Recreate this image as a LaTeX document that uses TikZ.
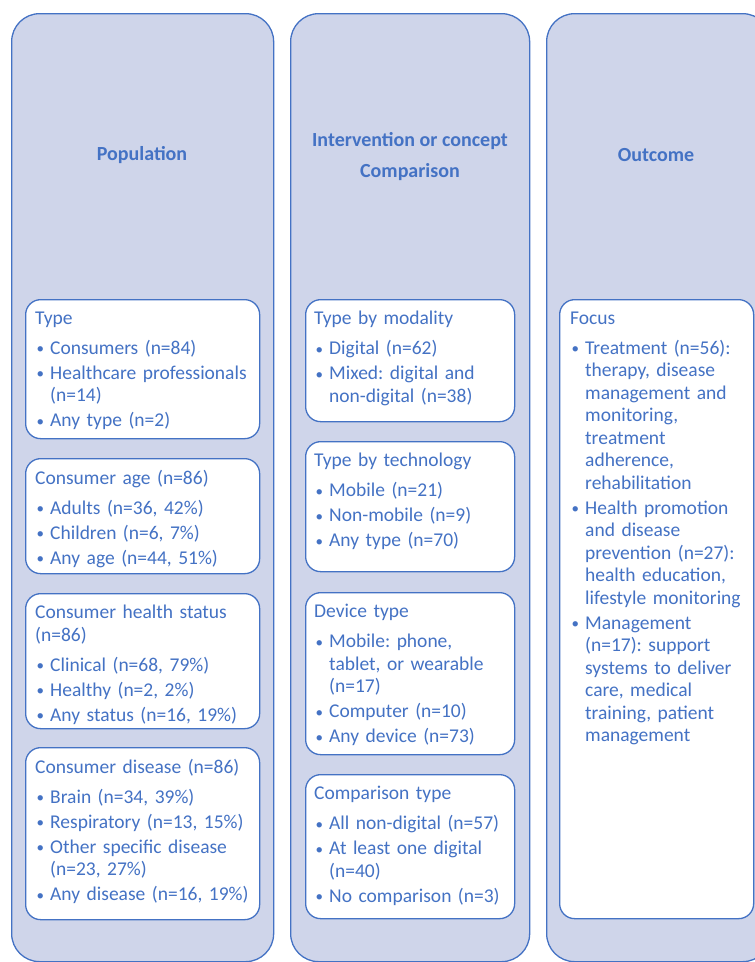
\documentclass[tikz,border=0pt]{standalone}
\usepackage{fontspec}
\setmainfont{Carlito}
\usetikzlibrary{positioning}
\definecolor{pcblue}{HTML}{4472C4}
\definecolor{pclav}{HTML}{CFD5EA}
% box title and bullet items
\newcommand{\hd}[1]{\noindent\rule{0pt}{13pt}#1\par\vspace{5pt}}
\newcommand{\itm}[1]{\vspace{2.5pt}\hangindent=15pt\hangafter=1\noindent
    \hbox to 15pt{\hspace{1.5pt}\raisebox{0.5pt}{\fontsize{15pt}{15pt}\selectfont\textbullet}\hfil}#1\par}
\begin{document}
\frenchspacing
\begin{tikzpicture}[x=1pt,y=-1pt,
        outer/.style={draw=pcblue,fill=pclav,line width=1.3pt,rounded corners=28pt,anchor=north west,inner sep=0pt},
        inbox/.style={draw=pcblue,fill=white,line width=1.3pt,rounded corners=15pt,inner sep=0pt},
        txt/.style={anchor=north west,inner sep=0pt,text=pcblue,align=left,text width=#1,
            font=\fontsize{19.5pt}{22.5pt}\selectfont},
        head/.style={text=pcblue,align=center,inner sep=0pt,font=\bfseries\fontsize{20pt}{31pt}\selectfont}]
    \path[use as bounding box,clip] (0,0) rectangle (755,962);
    % Left column: population
    \node[outer,minimum width=262pt,minimum height=948pt] (pop) at (11,13) {};
    \node[head] (pop-h) at (142,155) {Population};
    \node[inbox,anchor=north west,minimum width=234pt,minimum height=139pt] (type) at (25,299) {};
    \node[inbox,minimum width=234pt,minimum height=115pt,below=18.7pt of type] (age) {};
    \node[inbox,minimum width=234pt,minimum height=135pt,below=18.7pt of age] (status) {};
    \node[inbox,minimum width=234pt,minimum height=172pt,below=17.7pt of status] (disease) {};
    \node[txt=222pt] (type-t) at ([shift={(10,12)}]type.north west)
        {\hd{Type}\itm{Consumers (n=84)}\itm{Healthcare professionals\newline(n=14)}\itm{Any type (n=2)}};
    \node[txt=222pt] (age-t) at ([shift={(10,12)}]age.north west)
        {\hd{Consumer age (n=86)}\itm{Adults (n=36, 42\%)}\itm{Children (n=6, 7\%)}\itm{Any age (n=44, 51\%)}};
    \node[txt=222pt] (status-t) at ([shift={(10,12)}]status.north west)
        {\hd{Consumer health status\newline(n=86)}\itm{Clinical (n=68, 79\%)}\itm{Healthy (n=2, 2\%)}\itm{Any status (n=16, 19\%)}};
    \node[txt=222pt] (disease-t) at ([shift={(10,12)}]disease.north west)
        {\hd{Consumer disease (n=86)}\itm{Brain (n=34, 39\%)}\itm{Respiratory (n=13, 15\%)}\itm{Other specific disease\newline(n=23, 27\%)}\itm{Any disease (n=16, 19\%)}};
    % Middle column: intervention and comparison
    \node[outer,minimum width=239pt,minimum height=948pt] (intv) at (290,13) {};
    \node[head] (intv-h) at (410,157) {Intervention or concept\\Comparison};
    \node[inbox,anchor=north west,minimum width=209pt,minimum height=122pt] (modal) at (305,299) {};
    \node[inbox,minimum width=209pt,minimum height=130pt,below=18.7pt of modal] (tech) {};
    \node[inbox,minimum width=209pt,minimum height=162pt,below=19.7pt of tech] (device) {};
    \node[inbox,minimum width=209pt,minimum height=144pt,below=18.7pt of device] (compar) {};
    \node[txt=198pt] (modal-t) at ([shift={(9,12)}]modal.north west)
        {\hd{Type by modality}\itm{Digital (n=62)}\itm{Mixed: digital and\newline non-digital (n=38)}};
    \node[txt=198pt] (tech-t) at ([shift={(9,12)}]tech.north west)
        {\hd{Type by technology}\itm{Mobile (n=21)}\itm{Non-mobile (n=9)}\itm{Any type (n=70)}};
    \node[txt=198pt] (device-t) at ([shift={(9,12)}]device.north west)
        {\hd{Device type}\itm{Mobile: phone,\newline tablet, or wearable\newline(n=17)}\itm{Computer (n=10)}\itm{Any device (n=73)}};
    \node[txt=198pt] (compar-t) at ([shift={(9,12)}]compar.north west)
        {\hd{Comparison type}\itm{All non-digital (n=57)}\itm{At least one digital\newline(n=40)}\itm{No comparison (n=3)}};
    % Right column: outcome
    \node[outer,minimum width=224pt,minimum height=948pt] (outc) at (546,13) {};
    \node[head] (outc-h) at (656,155) {Outcome};
    \node[inbox,anchor=north west,minimum width=194pt,minimum height=619pt] (focus) at (559,299) {};
    \node[txt=186pt] (focus-t) at ([shift={(11,12)}]focus.north west)
        {\hd{Focus}\itm{Treatment (n=56):\newline therapy, disease\newline management and\newline monitoring,\newline treatment\newline adherence,\newline rehabilitation}%
        \itm{Health promotion\newline and disease\newline prevention (n=27):\newline health education,\newline lifestyle monitoring}%
        \itm{Management\newline(n=17): support\newline systems to deliver\newline care, medical\newline training, patient\newline management}};
\end{tikzpicture}
\end{document}
